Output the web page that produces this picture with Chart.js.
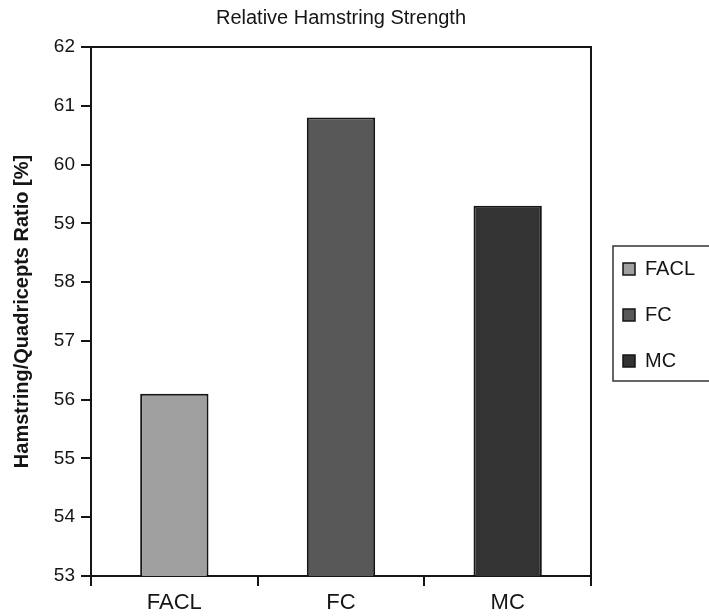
<!DOCTYPE html>
<html>
<head>
<meta charset="utf-8">
<script src="https://cdn.jsdelivr.net/npm/chart.js@4/dist/chart.umd.min.js"></script>
<style>
  html, body { margin: 0; padding: 0; background: #ffffff; }
  #wrap { width: 709px; height: 616px; }
</style>
</head>
<body>
<div id="wrap"><canvas id="c" width="709" height="616"></canvas></div>
<script>
// Hamstring / quadriceps strength ratio per group
const groups = ['FACL', 'FC', 'MC'];
const ratioPct = [56.1, 60.8, 59.3];
const barColors = ['#9f9f9f', '#585858', '#333333'];
const yMin = 53;
const yMax = 62;
const yStep = 1;

const sans = '"Liberation Sans", Arial, sans-serif';
const ink = '#151515';

// Frame around the plot area and the legend, plus legend/title placement
const framePlugin = {
  id: 'framePlugin',
  beforeLayout(chart) {
    const lg = chart.legend;
    if (lg && !lg._fixedWidth) {
      const fit = lg.fit;
      lg.fit = function () {
        fit.call(this);
        if (this.options.display) this.width = 118;
      };
      lg._fixedWidth = true;
    }
  },
  afterLayout(chart) {
    const lg = chart.legend;
    if (lg) {
      lg.left += 6; lg.right += 6;
      lg.top += 7; lg.bottom += 7;
    }
    const t = chart.titleBlock;
    if (t) {
      t.left = chart.chartArea.left;
      t.right = chart.chartArea.right;
    }
  },
  beforeDatasetsDraw(chart) {
    const { ctx, chartArea: a } = chart;
    ctx.save();
    ctx.strokeStyle = ink;
    ctx.lineWidth = 2;
    ctx.beginPath();
    ctx.moveTo(a.left, a.top);
    ctx.lineTo(a.right, a.top);
    ctx.lineTo(a.right, a.bottom);
    ctx.stroke();
    ctx.restore();
  },
  afterDraw(chart) {
    const lg = chart.legend;
    if (!lg || !lg.legendHitBoxes || !lg.legendHitBoxes.length) return;
    const hb = lg.legendHitBoxes;
    const first = hb[0];
    const last = hb[hb.length - 1];
    const { ctx, chartArea: a } = chart;
    const x0 = a.right + 22;
    const y0 = first.top - 13;
    const y1 = last.top + last.height + 10;
    ctx.save();
    ctx.strokeStyle = '#333333';
    ctx.lineWidth = 1.5;
    ctx.strokeRect(x0, y0, chart.width + 10 - x0, y1 - y0);
    ctx.restore();
  }
};

new Chart(document.getElementById('c'), {
  type: 'bar',
  data: {
    labels: groups,
    datasets: [{
      label: 'Hamstring/Quadricepts Ratio',
      data: ratioPct,
      backgroundColor: barColors,
      borderColor: ink,
      borderWidth: 2,
      borderSkipped: false,
      barPercentage: 0.41,
      categoryPercentage: 1
    }]
  },
  options: {
    responsive: false,
    animation: false,
    devicePixelRatio: 1,
    layout: { padding: 0 },
    plugins: {
      title: {
        display: true,
        text: 'Relative Hamstring Strength',
        color: ink,
        font: { family: sans, size: 20, weight: 'normal' },
        padding: { top: 6, bottom: 17 }
      },
      legend: {
        display: true,
        position: 'right',
        onClick: null,
        labels: {
          boxWidth: 12,
          boxHeight: 12,
          padding: 26,
          color: ink,
          font: { family: sans, size: 20 },
          generateLabels(chart) {
            const ds = chart.data.datasets[0];
            return chart.data.labels.map((l, i) => ({
              text: l,
              fillStyle: ds.backgroundColor[i],
              strokeStyle: ink,
              lineWidth: 1.5,
              fontColor: ink,
              hidden: false,
              index: i,
              datasetIndex: 0
            }));
          }
        }
      },
      tooltip: { enabled: false }
    },
    scales: {
      x: {
        ticks: {
          color: ink,
          font: { family: sans, size: 22, lineHeight: 1 },
          padding: 6
        },
        grid: {
          offset: true,
          drawOnChartArea: false,
          tickLength: 10,
          color: ink,
          lineWidth: 2
        },
        border: { display: true, color: ink, width: 2 },
        afterFit(s) { s.height = 40; }
      },
      y: {
        min: yMin,
        max: yMax,
        ticks: {
          stepSize: yStep,
          color: ink,
          font: { family: sans, size: 19 },
          padding: 6
        },
        grid: {
          drawOnChartArea: false,
          tickLength: 10,
          color: ink,
          lineWidth: 2
        },
        border: { display: true, color: ink, width: 2 },
        title: {
          display: true,
          text: 'Hamstring/Quadricepts Ratio [%]',
          color: ink,
          font: { family: sans, size: 20, weight: 'bold' },
          padding: { top: 10, bottom: 0 }
        },
        afterFit(s) { s.width = 91; }
      }
    }
  },
  plugins: [framePlugin]
});
</script>
</body>
</html>
